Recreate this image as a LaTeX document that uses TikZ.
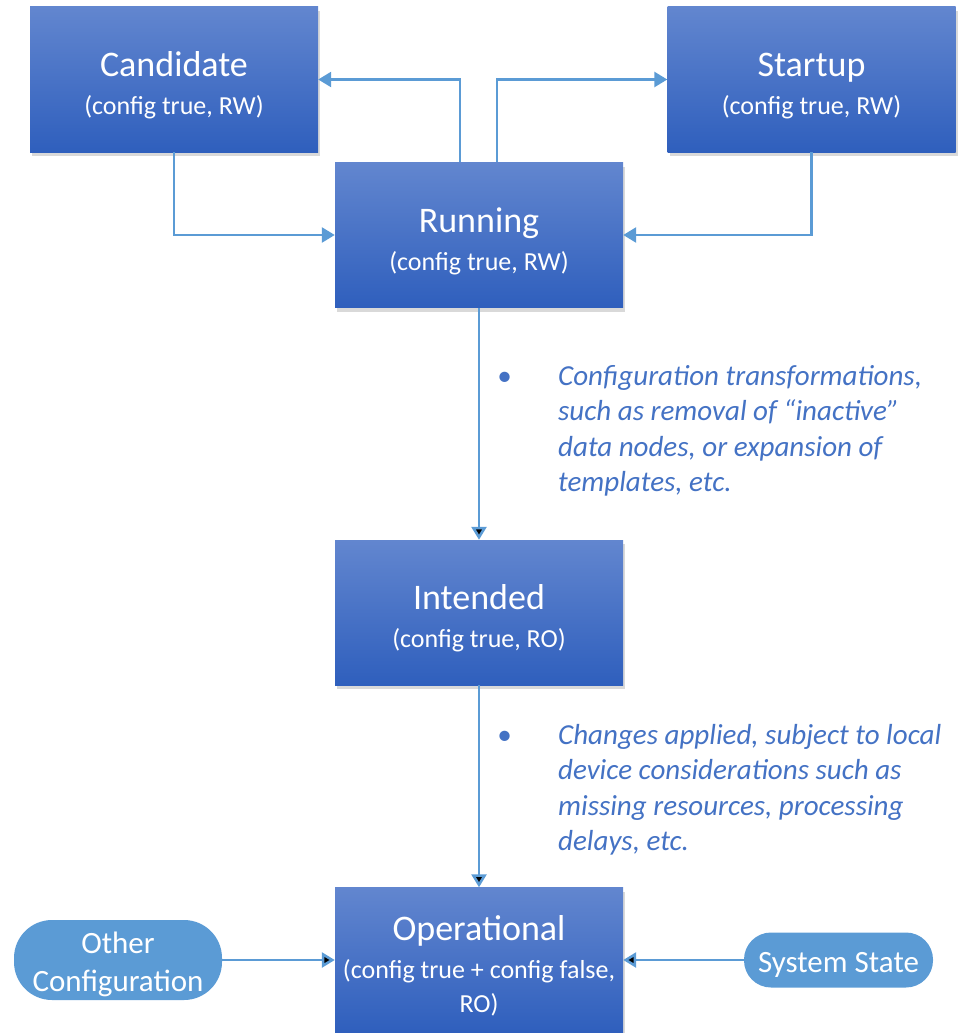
\documentclass[tikz,border=0pt]{standalone}
\usepackage{fontspec}
\setmainfont{Carlito}
\usepackage{tikz}
\usetikzlibrary{arrows.meta,shadows}
\definecolor{boxtop}{RGB}{98,134,207}
\definecolor{boxbot}{RGB}{47,95,189}
\definecolor{linkblue}{RGB}{91,155,213}
\definecolor{notetext}{RGB}{68,114,196}
\newcommand{\storetitle}[1]{\rule{0pt}{37pt}{\fontsize{36}{38}\selectfont #1}}

\begin{document}
\begin{tikzpicture}[x=1pt,y=-1pt,
	store/.style={shape=rectangle, top color=boxtop, bottom color=boxbot, minimum width=288pt, minimum height=145pt, inner sep=0pt, text=white, align=center, font=\fontsize{26}{38}\selectfont, drop shadow={opacity=0.3,shadow xshift=2pt,shadow yshift=-4pt}},
	source/.style={shape=rectangle, fill=linkblue, text=white, align=center, inner sep=0pt, font=\fontsize{31}{38}\selectfont},
	note/.style={text=notetext, inner sep=0pt, font=\fontsize{29}{35.5}\selectfont\itshape},
	link/.style={draw=linkblue, line width=2.6pt, -{Triangle[width=15pt,length=13pt]}}]
				\useasboundingbox (0,0) rectangle (961,1033);
				\node[store] (cand) at (174,79.5) {\storetitle{Candidate}\\(config true, RW)};
				\node[store] (start) at (811.5,79.5) {\storetitle{Startup}\\(config true, RW)};
				\node[store] (run) at (479,235) {\storetitle{Running}\\(config true, RW)};
				\node[store] (intd) at (479,612.5) {\storetitle{Intended}\\(config true, RO)};
				\node[store] (oper) at (479,960) {\storetitle{Operational}\\(config true + config false,\\[-4pt]RO)};
				\node[source, minimum width=208pt, minimum height=80pt, rounded corners=38pt] (other) at (118,960) {\rule{0pt}{30pt}Other\\Configuration};
				\node[source, minimum width=189pt, minimum height=55pt, rounded corners=27pt] (sys) at (838.5,960) {\rule{0pt}{30pt}System State};
				\node[note, anchor=base west] (note1) at (497,385) {\begin{tabular}[t]{@{}p{61pt}@{}l@{}}
					\textbullet & Configuration transformations,\\
					& such as removal of “inactive”\\
					& data nodes, or expansion of\\
					& templates, etc.
				\end{tabular}};
				\node[note, anchor=base west] (note2) at (497,744) {\begin{tabular}[t]{@{}p{61pt}@{}l@{}}
					\textbullet & Changes applied, subject to local\\
					& device considerations such as\\
					& missing resources, processing\\
					& delays, etc.
				\end{tabular}};
				\path[link] ([xshift=-19pt]run.north) |- (cand.east);
				\path[link] ([xshift=18pt]run.north) |- (start.west);
				\path[link] (cand.south) |- (run.west);
				\path[link] (start.south) |- (run.east);
				\path[link] (run) edge (intd) (intd) edge (oper);
				\path[link] (other) edge (oper);
				\path[link] (sys) edge (oper);
			\end{tikzpicture}
\end{document}
